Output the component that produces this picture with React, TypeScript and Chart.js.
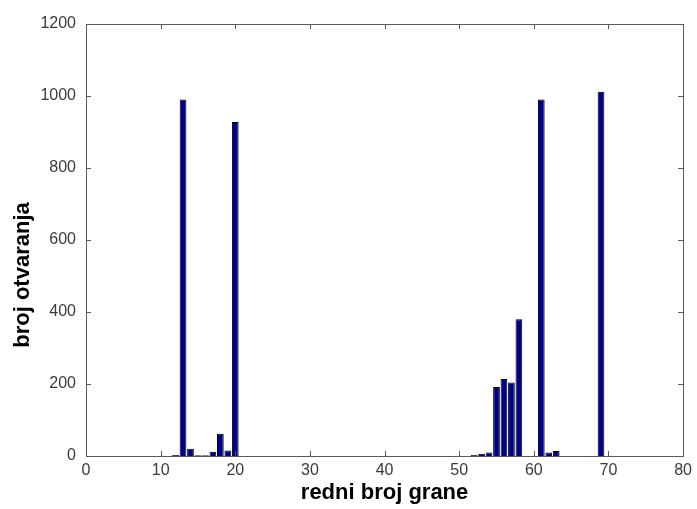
import React, { useEffect, useRef } from "react";
import { Chart, registerables } from "chart.js";

Chart.register(...registerables);

const branches = [12, 13, 14, 15, 16, 17, 18, 19, 20, 52, 53, 54, 55, 56, 57, 58, 61, 62, 63, 69];
const counts = [3, 990, 20, 2, 2, 12, 62, 15, 928, 3, 6, 10, 192, 214, 204, 380, 990, 10, 14, 1012];
const xTitle = "redni broj grane";
const yTitle = "broj otvaranja";

const boxPlugin = {
  id: "matlabBox",
  afterDraw(chart: any) {
    const { ctx, chartArea: a, scales } = chart;
    ctx.save();
    ctx.strokeStyle = "#5a5a5a";
    ctx.lineWidth = 1;
    const tl = 5;
    ctx.beginPath();
    scales.x.ticks.forEach((t: any) => {
      const px = Math.round(scales.x.getPixelForValue(t.value)) + 0.5;
      ctx.moveTo(px, a.bottom);
      ctx.lineTo(px, a.bottom - tl);
      ctx.moveTo(px, a.top);
      ctx.lineTo(px, a.top + tl);
    });
    scales.y.ticks.forEach((t: any) => {
      const py = Math.round(scales.y.getPixelForValue(t.value)) + 0.5;
      ctx.moveTo(a.left, py);
      ctx.lineTo(a.left + tl, py);
      ctx.moveTo(a.right, py);
      ctx.lineTo(a.right - tl, py);
    });
    ctx.stroke();
    ctx.strokeRect(Math.round(a.left) + 0.5, Math.round(a.top) + 0.5, Math.round(a.right - a.left), Math.round(a.bottom - a.top));
    // y axis title, placed as in the reference (slightly below plot centre)
    ctx.translate(23, 275);
    ctx.rotate(-Math.PI / 2);
    ctx.fillStyle = "#000";
    ctx.font = "bold 22px 'Liberation Sans'";
    ctx.textAlign = "center";
    ctx.textBaseline = "middle";
    ctx.fillText(yTitle, 0, 0);
    ctx.restore();
  },
};

export default function App() {
  const ref = useRef<HTMLCanvasElement>(null);
  useEffect(() => {
    if (!ref.current) return;
    const chart = new Chart(ref.current, {
      type: "bar",
      data: {
        datasets: [
          {
            data: branches.map((b, i) => ({ x: b, y: counts[i] })),
            backgroundColor: "rgb(0,0,140)",
            borderColor: "#000",
            borderWidth: 1,
            barPercentage: 0.9,
            categoryPercentage: 1.0,
          },
        ],
      },
      options: {
        animation: false,
        responsive: false,
        maintainAspectRatio: false,
        layout: { padding: { top: 24, right: 12, left: 0, bottom: 0 } },
        plugins: { legend: { display: false }, tooltip: { enabled: false } },
        scales: {
          x: {
            type: "linear",
            min: 0,
            max: 80,
            offset: false,
            grid: { display: false, drawTicks: false, offset: false },
            border: { display: false },
            ticks: { stepSize: 10, padding: 5, color: "#3a3a3a", font: { family: "Liberation Sans", size: 16 }, maxRotation: 0, callback: (v: any) => String(v) },
            title: { display: true, text: xTitle, color: "#000", font: { family: "Liberation Sans", size: 22, weight: "bold" }, padding: { top: 0, bottom: 3 } },
            afterFit: (s: any) => { s.height = 53; },
          },
          y: {
            min: 0,
            max: 1200,
            grid: { display: false, drawTicks: false },
            border: { display: false },
            ticks: { stepSize: 200, padding: 10, color: "#3a3a3a", font: { family: "Liberation Sans", size: 16 }, callback: (v: any) => String(v) },
            title: { display: false },
            afterFit: (s: any) => { s.width = 86; },
          },
        },
      },
      plugins: [boxPlugin],
    } as any);
    return () => chart.destroy();
  }, []);
  return (
    <div style={{ position: "fixed", left: 0, top: 0, width: 697, height: 509, background: "#fff" }}>
      <canvas ref={ref} width={697} height={509} />
    </div>
  );
}
